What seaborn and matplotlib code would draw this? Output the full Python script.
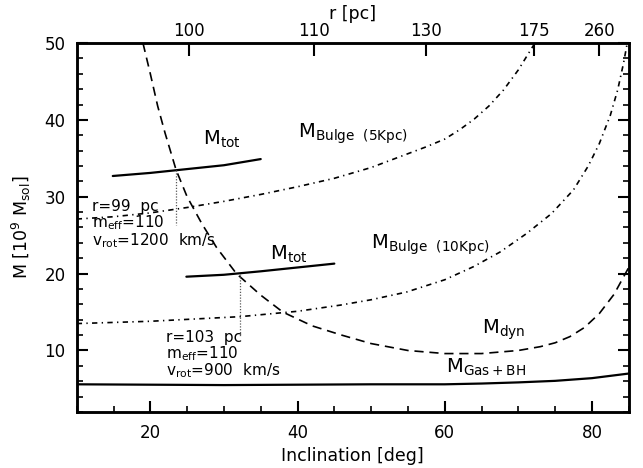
import matplotlib
matplotlib.use("Agg")
import matplotlib.pyplot as plt
import seaborn as sns
from matplotlib.ticker import MultipleLocator

# ---------------- data ----------------
inc_dyn = [19.0, 20.0, 21.0, 22.0, 23.5, 25.0, 27.0, 29.0, 31.7, 35.0, 38.0, 42.0,
           46.0, 50.0, 55.0, 60.0, 65.0, 70.0, 73.0, 75.0, 77.0, 79.0, 81.0, 83.0, 85.0]
m_dyn = [50.0, 46.0, 41.8, 38.3, 33.5, 30.0, 26.5, 23.4, 20.0, 17.2, 15.0, 13.2,
         12.0, 10.9, 10.0, 9.6, 9.6, 10.0, 10.5, 11.0, 11.8, 13.0, 14.8, 17.3, 20.8]

inc_b5 = [10, 15, 20, 25, 30, 35, 40, 45, 50, 55, 57.5, 60, 62, 64, 66, 68, 70, 72.0, 72.3]
m_b5 = [27.1, 27.4, 27.9, 28.6, 29.4, 30.3, 31.3, 32.4, 33.8, 35.6, 36.5, 37.5, 38.7,
        40.1, 41.8, 43.9, 46.5, 49.6, 50.0]

inc_b10 = [10, 20, 32.2, 40, 45.8, 50, 54.8, 60, 63.9, 67.5, 71.1, 74.5, 77.5, 79.5,
           81.0, 82.5, 83.5, 84.3, 84.8]
m_b10 = [13.5, 13.8, 14.4, 15.1, 15.9, 16.6, 17.6, 19.2, 20.9, 22.8, 25.2, 27.8, 30.9,
         34.0, 36.9, 40.6, 43.9, 47.4, 50.0]

inc_gas = [10, 20, 30, 40, 50, 60, 65, 70, 75, 80, 85]
m_gas = [5.6, 5.55, 5.5, 5.55, 5.6, 5.6, 5.7, 5.85, 6.05, 6.4, 7.0]

inc_tot1 = [14.9, 20, 25, 30, 35]
m_tot1 = [32.7, 33.1, 33.6, 34.1, 34.9]

inc_tot2 = [24.9, 30, 35, 40, 45]
m_tot2 = [19.6, 19.85, 20.3, 20.8, 21.3]

inc_v1 = [23.5, 23.5]
m_v1 = [33.5, 26.3]
inc_v2 = [32.2, 32.2]
m_v2 = [20.0, 11.8]

r_labels = ["100", "110", "130", "175", "260"]
r_inc = [25.2, 42.2, 57.5, 72.1, 81.0]

note1 = "r=99  pc\n$m_{eff}$=110\n$v_{rot}$=1200  km/s"
note2 = "r=103  pc\n$m_{eff}$=110\n$v_{rot}$=900  km/s"

# ---------------- style ----------------
sns.set_theme(style="ticks", rc={
    "xtick.direction": "in", "ytick.direction": "in",
    "axes.linewidth": 1.8, "axes.edgecolor": "black",
    "xtick.color": "black", "ytick.color": "black",
    "text.color": "black", "axes.labelcolor": "black",
    "xtick.major.size": 8, "ytick.major.size": 8,
    "xtick.minor.size": 4, "ytick.minor.size": 4,
    "xtick.major.width": 1.5, "ytick.major.width": 1.5,
    "xtick.minor.width": 1.2, "ytick.minor.width": 1.2,
    "xtick.labelsize": 12, "ytick.labelsize": 12,
    "axes.labelsize": 12.5,
})
plt.rcParams['font.family'] = ['DejaVu Sans']
plt.rcParams['mathtext.default'] = 'regular'

fig, ax = plt.subplots(figsize=(6.43, 4.68), dpi=100)
fig.subplots_adjust(left=0.1193, right=0.9778, bottom=0.1197, top=0.9081)

k = dict(ax=ax, color="black", legend=False)
sns.lineplot(x=inc_dyn, y=m_dyn, lw=1.2, linestyle=(0, (5.5, 3.5)), **k)
sns.lineplot(x=inc_b5, y=m_b5, lw=1.2, linestyle=(0, (3.2, 2.6, 0.8, 2.6)), **k)
sns.lineplot(x=inc_b10, y=m_b10, lw=1.2, linestyle=(0, (3.2, 2.6, 0.8, 2.6)), **k)
sns.lineplot(x=inc_gas, y=m_gas, lw=1.6, **k)
sns.lineplot(x=inc_tot1, y=m_tot1, lw=1.6, **k)
sns.lineplot(x=inc_tot2, y=m_tot2, lw=1.6, **k)
sns.lineplot(x=inc_v1, y=m_v1, lw=0.9, linestyle=(0, (1, 1.3)), color="0.35",
             estimator=None, sort=False, ax=ax, legend=False)
sns.lineplot(x=inc_v2, y=m_v2, lw=0.9, linestyle=(0, (1, 1.3)), color="0.35",
             estimator=None, sort=False, ax=ax, legend=False)

ax.set_xlim(10, 85)
ax.set_ylim(2, 50)
ax.xaxis.set_major_locator(MultipleLocator(20))
ax.xaxis.set_minor_locator(MultipleLocator(5))
ax.yaxis.set_major_locator(MultipleLocator(10))
ax.yaxis.set_minor_locator(MultipleLocator(2))
ax.tick_params(which="both", top=False, right=True)
ax.tick_params(axis="x", which="major", pad=9)
ax.tick_params(axis="y", which="major", pad=8)
ax.set_xlabel("Inclination [deg]", labelpad=3)
ax.set_ylabel("M [10$^9$ M$_{sol}$]", labelpad=8)

ax2 = ax.twiny()
ax2.set_xlim(10, 85)
ax2.set_xticks(r_inc)
ax2.set_xticklabels(r_labels)
ax2.tick_params(axis="x", which="major", length=9, width=1.5, direction="in",
                labelsize=12, pad=2, colors="black")
ax2.set_xlabel("r [pc]", labelpad=2, fontsize=12.5, color="black")
for s in ax2.spines.values():
    s.set_linewidth(1.8)

big = 14
small = 11
ax.text(27.1, 36.8, r"$M_{tot}$", fontsize=big, va="baseline")
ax.text(40.1, 37.7, r"$M_{Bulge\ \ (5Kpc)}$", fontsize=big, va="baseline")
ax.text(36.3, 21.8, r"$M_{tot}$", fontsize=big, va="baseline")
ax.text(50.05, 23.3, r"$M_{Bulge\ \ (10Kpc)}$", fontsize=big, va="baseline")
ax.text(65.0, 12.2, r"$M_{dyn}$", fontsize=big, va="baseline")
ax.text(60.2, 7.1, r"$M_{Gas+BH}$", fontsize=big, va="baseline")

ax.text(12.1, 29.7, note1, fontsize=small, va="top", linespacing=0.95)
ax.text(22.1, 12.6, note2, fontsize=small, va="top", linespacing=0.9)

fig.savefig("out.png", dpi=100)
